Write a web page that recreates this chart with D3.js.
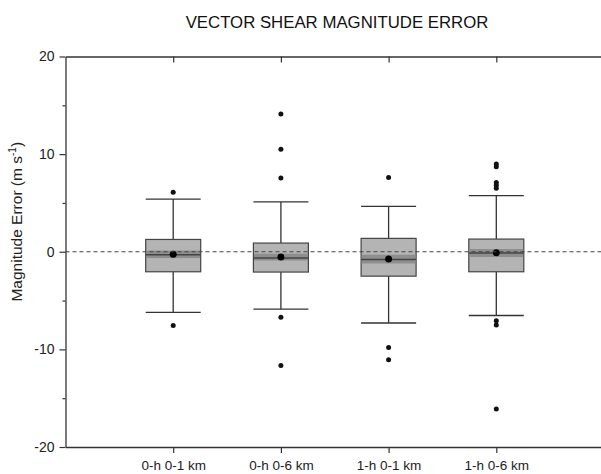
<!DOCTYPE html>
<html>
<head>
<meta charset="utf-8">
<title>Vector Shear Magnitude Error</title>
<script src="https://cdn.jsdelivr.net/npm/d3@7"></script>
<style>
	html, body { margin: 0; padding: 0; background: white; }
	svg { display: block; font-family: 'Liberation Sans', Arial, sans-serif; }
</style>
</head>
<body>
<div id="vis"></div>
<script>

// data
var categories = ["0-h 0-1 km", "0-h 0-6 km", "1-h 0-1 km", "1-h 0-6 km"];
var q1       = [-2.05, -2.08, -2.5, -2.05];
var q3       = [1.26, 0.89, 1.37, 1.3];
var medians  = [-0.3, -0.65, -0.8, -0.14];
var means    = [-0.25, -0.55, -0.75, -0.1];
var ciLow    = [-0.65, -0.9, -1.2, -0.54];
var ciHigh   = [0.12, -0.2, -0.3, 0.28];
var whiskLow = [-6.2, -5.88, -7.3, -6.53];
var whiskHigh= [5.4, 5.1, 4.65, 5.74];
var outliers = [
	[6.1, -7.55],
	[14.1, 10.5, 7.56, -6.7, -11.66],
	[7.6, -9.8, -11.05],
	[9.0, 8.7, 7.1, 6.8, 6.5, -7.08, -7.5, -16.1]
];
var yTicks = [-20, -10, 0, 10, 20];
var yMinor = [-15, -5, 5, 15];

var width = 601, height = 474;
var pLeft = 65.5, pRight = 604, pTop = 56.5, pBottom = 447;

var svg = d3.select("#vis").append("svg")
	.attr("width", width)
	.attr("height", height);

var x = d3.scaleLinear().domain([0, 5]).range([pLeft, pRight]);
var y = d3.scaleLinear().domain([-20, 20]).range([pBottom, pTop]);

var boxW = 55;

var data = categories.map(function(c, i) {
	return {
		name: c, i: i + 1, q1: q1[i], q3: q3[i], med: medians[i], mean: means[i],
		lo: ciLow[i], hi: ciHigh[i], wl: whiskLow[i], wh: whiskHigh[i], out: outliers[i]
	};
});

// title
svg.append("text")
	.attr("x", 337)
	.attr("y", 28)
	.attr("text-anchor", "middle")
	.style("font-size", "16.8px")
	.style("fill", "#111")
	.text("VECTOR SHEAR MAGNITUDE ERROR");

// y axis label
var yl = svg.append("text")
	.attr("transform", "translate(22," + ((pTop + pBottom) / 2 - 30) + ") rotate(-90)")
	.attr("text-anchor", "middle")
	.style("font-size", "15.5px")
	.style("fill", "#222");
yl.append("tspan").text("Magnitude Error (m s");
yl.append("tspan").attr("dy", -6).style("font-size", "10px").text("-1");
yl.append("tspan").attr("dy", 6).text(")");

var g = svg.append("g");

// boxes
var box = g.selectAll(".box").data(data).enter().append("g").attr("class", "box");

box.append("line")
	.attr("x1", function(d) { return x(d.i); })
	.attr("x2", function(d) { return x(d.i); })
	.attr("y1", function(d) { return y(d.wh); })
	.attr("y2", function(d) { return y(d.wl); })
	.attr("stroke", "#333").attr("stroke-width", 1.3);

box.selectAll(".cap").data(function(d) { return [d.wl, d.wh].map(function(v) { return {i: d.i, v: v}; }); })
	.enter().append("line")
	.attr("x1", function(d) { return x(d.i) - boxW / 2; })
	.attr("x2", function(d) { return x(d.i) + boxW / 2; })
	.attr("y1", function(d) { return y(d.v); })
	.attr("y2", function(d) { return y(d.v); })
	.attr("stroke", "#333").attr("stroke-width", 1.3);

box.append("rect")
	.attr("x", function(d) { return x(d.i) - boxW / 2; })
	.attr("width", boxW)
	.attr("y", function(d) { return y(d.q3); })
	.attr("height", function(d) { return y(d.q1) - y(d.q3); })
	.attr("fill", "#b4b4b4")
	.attr("stroke", "#444").attr("stroke-width", 1.2);

box.append("rect")
	.attr("x", function(d) { return x(d.i) - boxW / 2 + 0.6; })
	.attr("width", boxW - 1.2)
	.attr("y", function(d) { return y(d.hi); })
	.attr("height", function(d) { return y(d.lo) - y(d.hi); })
	.attr("fill", "#8e8e8e");

box.append("line")
	.attr("x1", function(d) { return x(d.i) - boxW / 2; })
	.attr("x2", function(d) { return x(d.i) + boxW / 2; })
	.attr("y1", function(d) { return y(d.med); })
	.attr("y2", function(d) { return y(d.med); })
	.attr("stroke", "#444").attr("stroke-width", 1.5);

// zero reference line
g.append("line")
	.attr("x1", pLeft).attr("x2", pRight)
	.attr("y1", y(0)).attr("y2", y(0))
	.attr("stroke", "#444").attr("stroke-width", 1.2)
	.attr("stroke-dasharray", "4,3");

box.append("circle")
	.attr("cx", function(d) { return x(d.i); })
	.attr("cy", function(d) { return y(d.mean); })
	.attr("r", 3.5)
	.attr("fill", "#000");

box.selectAll(".out").data(function(d) { return d.out.map(function(v) { return {i: d.i, v: v}; }); })
	.enter().append("circle")
	.attr("cx", function(d) { return x(d.i); })
	.attr("cy", function(d) { return y(d.v); })
	.attr("r", 2.5)
	.attr("fill", "#111");

// axes
var yAxis = d3.axisLeft(y).tickValues(yTicks).tickSize(6).tickSizeOuter(0).tickPadding(5)
	.tickFormat(function(d) { return String(d); });
var ya = svg.append("g").attr("transform", "translate(" + pLeft + ",0)").call(yAxis);
ya.selectAll("text").style("font-size", "14px").style("fill", "#222");

var yMinAxis = d3.axisLeft(y).tickValues(yMinor).tickSize(3).tickSizeOuter(0).tickFormat("");
svg.append("g").attr("transform", "translate(" + pLeft + ",0)").call(yMinAxis)
	.select(".domain").remove();

var xAxis = d3.axisBottom(x).tickValues([1, 2, 3, 4])
	.tickFormat(function(d) { return categories[d - 1]; })
	.tickSize(6).tickSizeOuter(0).tickPadding(7);
var xa = svg.append("g").attr("transform", "translate(0," + pBottom + ")").call(xAxis);
xa.selectAll("text").style("font-size", "13.5px").style("fill", "#222");

var xTop = d3.axisBottom(x).tickValues([1, 2, 3, 4]).tickSize(6).tickSizeOuter(0).tickFormat("");
svg.append("g").attr("transform", "translate(0," + pTop + ")").call(xTop);

svg.selectAll(".domain").attr("stroke", "#333").attr("stroke-width", 1.3);
svg.selectAll(".tick line").attr("stroke", "#333").attr("stroke-width", 1.2);

</script>
</body>
</html>
